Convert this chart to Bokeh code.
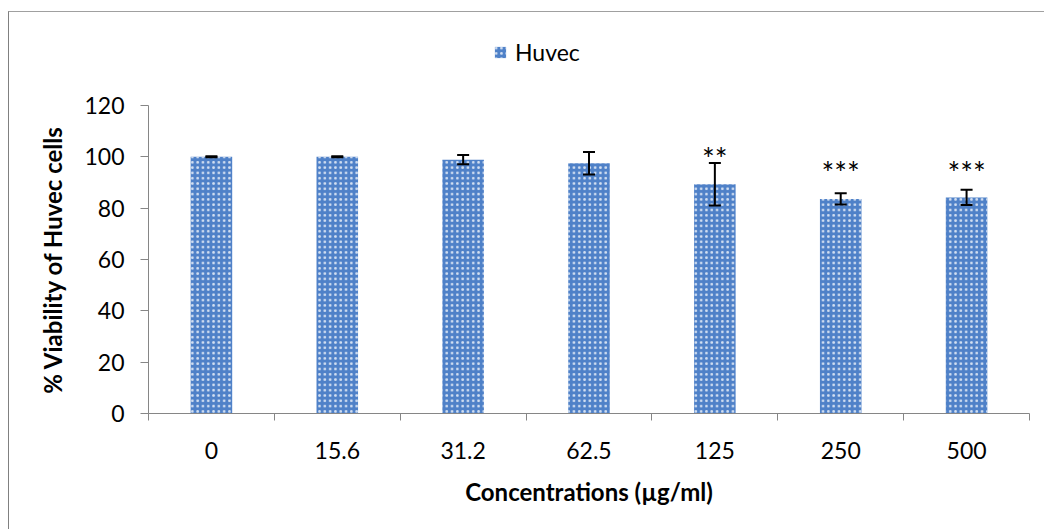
from bokeh.plotting import figure
from bokeh.layouts import column
from bokeh.models import ColumnDataSource, Range1d, FixedTicker, Whisker, TeeHead, Legend, LegendItem
from bokeh.core.properties import value
from bokeh.embed import file_html
from bokeh.resources import INLINE

categories = ["0", "15.6", "31.2", "62.5", "125", "250", "500"]
viability = [100.0, 100.0, 98.9, 97.5, 89.3, 83.6, 84.2]
errors = [0.2, 0.2, 1.8, 4.4, 8.3, 2.2, 3.0]
star_labels = ["", "", "", "", "**", "***", "***"]
star_y = [0, 0, 0, 0, 99.6, 94.0, 94.0]
series_name = "Huvec"

FONT = "Lato"
GREY = "#868686"
BAR_STYLE = dict(fill_color="#4f81c8", line_color=None, hatch_pattern="dot",
                 hatch_color="white", hatch_scale=5.3, hatch_weight=3, hatch_alpha=0.75)

xs = [i + 0.5 for i in range(len(categories))]
src = ColumnDataSource(dict(
    x=xs, top=viability,
    upper=[v + e for v, e in zip(viability, errors)],
    lower=[v - e for v, e in zip(viability, errors)],
    sl=star_labels, sy=star_y,
))

# --- legend strip on top ---
lg = figure(width=1035, height=73, output_backend="svg", toolbar_location=None,
            x_range=Range1d(0, 1), y_range=Range1d(0, 1), min_border=0,
            x_axis_location=None, y_axis_location=None)
lg.grid.visible = False
lg.outline_line_color = None
dummy = lg.vbar(x=[-5], top=[-5], bottom=[-6], width=0.3, **BAR_STYLE)  # outside view, only feeds the legend
legend = Legend(items=[LegendItem(label=series_name, renderers=[dummy])],
                location=(345, 19), orientation="horizontal",
                background_fill_alpha=0, border_line_color=None,
                label_text_font=FONT, label_text_font_size="23px", label_text_color="black",
                glyph_width=14, glyph_height=14, label_standoff=8, padding=0, margin=0)
lg.add_layout(legend, "center")

# --- main chart ---
p = figure(width=1035, height=444, output_backend="svg", toolbar_location=None,
           x_range=Range1d(0, len(categories)), y_range=Range1d(0, 120),
           min_border_left=139, min_border_right=15, min_border_top=20, min_border_bottom=116)
p.outline_line_color = None
p.xgrid.grid_line_color = None
p.ygrid.grid_line_color = None

bars = p.vbar(x="x", top="top", width=0.33, source=src, **BAR_STYLE)

w = Whisker(base="x", upper="upper", lower="lower", source=src, level="overlay",
            line_color="black", line_width=2,
            upper_head=TeeHead(size=12, line_color="black", line_width=2),
            lower_head=TeeHead(size=12, line_color="black", line_width=2))
p.add_layout(w)

p.text(x="x", y="sy", text="sl", source=src, text_align="center", text_baseline="middle",
       text_font=value(FONT), text_font_size="30px", text_color="black")

# x axis: labels at centres, tick marks at category boundaries
p.xaxis.ticker = FixedTicker(ticks=xs, minor_ticks=list(range(len(categories) + 1)))
p.xaxis.major_label_overrides = {x: c for x, c in zip(xs, categories)}
p.xaxis.major_tick_in = 0
p.xaxis.major_tick_out = 0
p.xaxis.minor_tick_in = 0
p.xaxis.minor_tick_out = 7
p.xaxis.minor_tick_line_color = GREY
p.xaxis.axis_line_color = GREY
p.xaxis.major_label_standoff = 21
p.xaxis.axis_label = "Concentrations (µg/ml)"
p.xaxis.axis_label_standoff = 15

p.yaxis.ticker = FixedTicker(ticks=[0, 20, 40, 60, 80, 100, 120])
p.yaxis.minor_tick_line_color = None
p.yaxis.major_tick_in = 0
p.yaxis.major_tick_out = 8
p.yaxis.major_tick_line_color = GREY
p.yaxis.axis_line_color = GREY
p.yaxis.major_label_standoff = 16
p.yaxis.axis_label = "% Viability of Huvec cells"
p.yaxis.axis_label_standoff = 14

for ax in (p.xaxis, p.yaxis):
    ax.major_label_text_font = FONT
    ax.major_label_text_font_size = "23px"
    ax.major_label_text_color = "black"
    ax.axis_label_text_font = FONT
    ax.axis_label_text_font_size = "24px"
    ax.axis_label_text_font_style = "bold"
    ax.axis_label_text_color = "black"

layout = column(lg, p, spacing=0)
layout.styles = {"margin-left": "8px", "margin-top": "11px",
                 "border-left": "1px solid #808080", "border-top": "1px solid #a0a0a0"}

open("out.html", "w").write(file_html(layout, INLINE))
